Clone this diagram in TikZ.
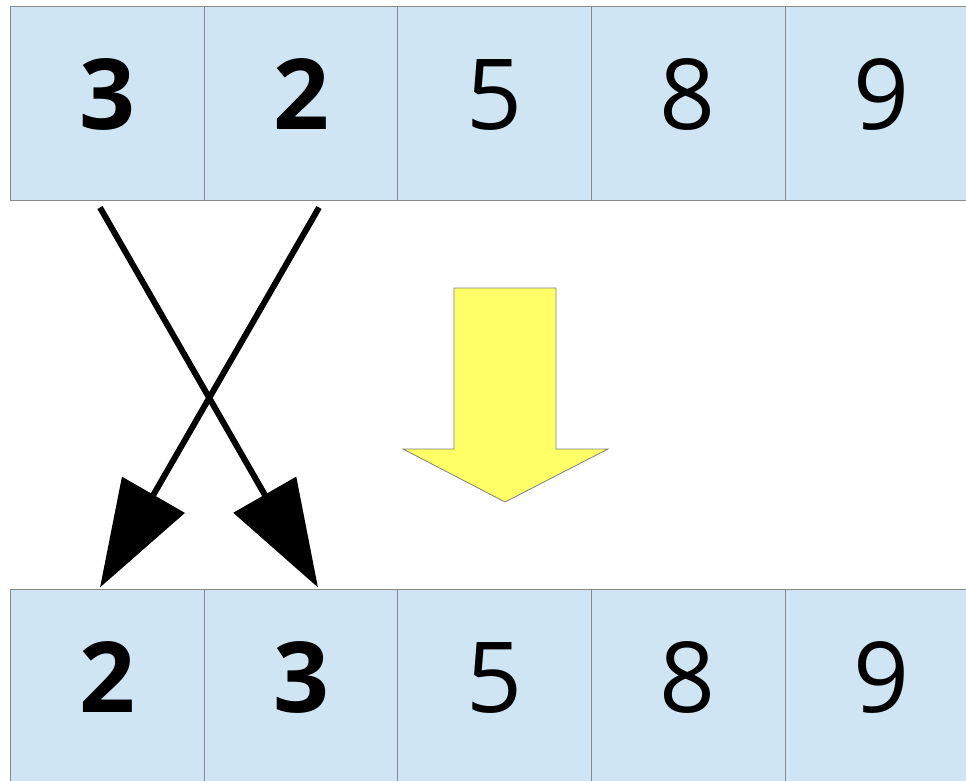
\documentclass[tikz,border=0pt]{standalone}
\usepackage{fontspec}
\setmainfont{Open Sans}
\usetikzlibrary{arrows.meta,calc}
\definecolor{cellblue}{HTML}{CFE5F3}
\definecolor{cellline}{HTML}{8A8A8A}
\definecolor{arrowyellow}{HTML}{FFFF66}
\tikzset{
  cell/.style={draw=cellline, line width=1pt, fill=cellblue, minimum width=194pt, minimum height=193pt,
    inner sep=0pt, text height=70pt, text depth=17pt, font=\fontsize{98}{98}\selectfont},
  swaparrow/.style={line width=6pt, -{Triangle[length=107pt,width=71pt]}, shorten >=0pt},
}
\begin{document}
\begin{tikzpicture}[x=1pt,y=-1pt]
\useasboundingbox (0,0) rectangle (966,781);
% top row
\node[cell] (t1) at (107,103.5) {\bfseries 3};
\node[cell] (t2) at (301,103.5) {\bfseries 2};
\node[cell] (t3) at (494.5,103.5) {5};
\node[cell] (t4) at (688,103.5) {8};
\node[cell] (t5) at (882,103.5) {9};
% bottom row
\node[cell] (b1) at (107,685.5) {\bfseries 2};
\node[cell] (b2) at (301,685.5) {\bfseries 3};
\node[cell] (b3) at (494.5,685.5) {5};
\node[cell] (b4) at (688,685.5) {8};
\node[cell] (b5) at (882,685.5) {9};
% connector end points
\coordinate (s1) at ($(t1.south)+(-7,7)$);
\coordinate (s2) at ($(t2.south)+(18,7)$);
\coordinate (e1) at ($(b2.north)+(17,-1)$);
\coordinate (e2) at ($(b1.north)+(-7,-1)$);
\draw[swaparrow] (s1) -- (e1);
\draw[swaparrow] (s2) -- (e2);
% yellow arrow
\draw[draw=gray, line width=0.8pt, fill=arrowyellow]
  (454,288) -- (556,288) -- (556,449) -- (608,449) -- (505,502) -- (403,449) -- (454,449) -- cycle;
\end{tikzpicture}
\end{document}
